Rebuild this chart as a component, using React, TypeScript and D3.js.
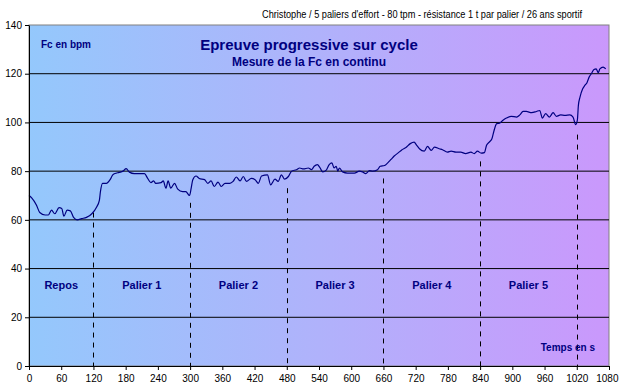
import React, { useEffect, useRef } from 'react';
import * as d3 from 'd3';

// heart rate samples (s, bpm)
const times = [0, 5, 14, 20, 30, 36, 42, 48, 56, 61, 65, 71, 77, 83, 90, 98, 107, 117, 126, 131, 133, 137, 144, 151, 156, 160, 168, 175, 181, 187, 196, 205, 215, 221, 227, 232, 236, 246, 250, 255, 259, 264, 271, 277, 286, 292, 299, 302, 305, 311, 317, 327, 333, 339, 345, 352, 358, 365, 374, 380, 386, 393, 399, 405, 414, 421, 427, 433, 444, 450, 458, 464, 470, 476, 483, 489, 498, 504, 511, 520, 526, 531, 537, 542, 547, 553, 559, 564, 568, 572, 575, 578, 584, 593, 606, 615, 621, 627, 634, 640, 649, 654, 662, 668, 674, 680, 688, 694, 702, 710, 717, 722, 727, 736, 742, 749, 755, 764, 770, 779, 786, 795, 804, 813, 823, 829, 835, 842, 848, 852, 857, 862, 866, 871, 876, 882, 889, 898, 908, 914, 920, 926, 936, 945, 951, 956, 962, 969, 976, 982, 990, 998, 1007, 1013, 1018, 1021, 1023, 1026, 1031, 1035, 1039, 1043, 1047, 1052, 1056, 1060, 1063, 1069, 1074];
const bpm = [70, 69, 66, 63, 62, 62, 64, 62.5, 65, 64.7, 61.5, 64, 63.7, 61, 60, 60.5, 61, 62.5, 65.3, 68, 71.6, 75, 75, 76.5, 78.5, 79, 79.5, 80, 81, 79.6, 79, 79, 79, 77, 75.3, 76, 75, 75.3, 76, 73, 76, 73, 75, 72.6, 71.6, 71.6, 70, 73, 76.5, 78, 77, 76.5, 75, 76, 73.7, 75.5, 73.7, 75, 75, 75.8, 77.6, 76, 77.8, 75.8, 77, 76.5, 75, 78, 78.5, 74.4, 76.7, 75.8, 78.5, 76.7, 77.8, 80, 80.6, 81.3, 80.9, 81.3, 80.6, 82, 82.7, 81.3, 79.7, 80.3, 82.7, 83.4, 81.3, 82, 80, 81.3, 79.7, 79.2, 79.2, 80, 79.7, 79, 80.2, 80, 80.6, 82, 82.3, 83.4, 84.8, 86.2, 87.6, 88.7, 89.7, 91.3, 91.9, 90.6, 89.2, 88.2, 90.2, 88.5, 89.9, 89.2, 88.8, 87.8, 88.2, 87.8, 87.8, 87.2, 87.8, 87.2, 88.2, 87.4, 87.6, 90.6, 91.9, 93.3, 96.7, 99.5, 99.7, 100.8, 101.8, 102.5, 102.2, 103.1, 104.5, 104.5, 104, 104.5, 104.9, 101.8, 103.6, 102.2, 104, 102.5, 103.1, 102.9, 103.1, 102.2, 99.1, 100.8, 107, 110.4, 113.8, 115.2, 116.3, 118.6, 120, 121.7, 122, 120.4, 122, 122.7, 122];

// phases
const phaseNames = ['Repos', 'Palier 1', 'Palier 2', 'Palier 3', 'Palier 4', 'Palier 5'];
const phaseBounds = [0, 120, 300, 480, 660, 840, 1020];
const dividerTimes = [120, 300, 480, 660, 840, 1020];
const dividerTops = [63, 67, 73, 77, 84, 95];

const xTicks = d3.range(0, 1081, 60);
const yTicks = [0, 20, 40, 60, 80, 100, 120, 140];

const W = 620;
const H = 390;
const FONT = '"Liberation Sans", Arial, sans-serif';
const NAVY = '#000080';

export default function App() {
  const ref = useRef(null);

  useEffect(() => {
    const root = d3.select(ref.current);
    root.selectAll('*').remove();

    const left = 29, right = 609, top = 25, bottom = 366;
    const x = d3.scaleLinear().domain([0, 1080]).range([left, right]);
    const y = d3.scaleLinear().domain([0, 140]).range([bottom, top]);

    const svg = root.append('svg')
      .attr('width', W)
      .attr('height', H)
      .style('position', 'absolute')
      .style('left', 0)
      .style('top', 0)
      .style('font-family', FONT);

    svg.append('rect').attr('width', W).attr('height', H).attr('fill', '#ffffff');

    const grad = svg.append('defs').append('linearGradient')
      .attr('id', 'bg').attr('x1', 0).attr('x2', 1).attr('y1', 0).attr('y2', 0);
    grad.append('stop').attr('offset', '0%').attr('stop-color', '#94c8fc');
    grad.append('stop').attr('offset', '50%').attr('stop-color', '#b0b2fb');
    grad.append('stop').attr('offset', '100%').attr('stop-color', '#ca98fc');

    // plot area
    svg.append('rect')
      .attr('x', left).attr('y', top)
      .attr('width', right - left).attr('height', bottom - top)
      .attr('fill', 'url(#bg)')
      .attr('stroke', '#808080')
      .attr('stroke-width', 1);

    // gridlines
    svg.append('g').selectAll('line')
      .data(yTicks.filter(d => d > 0 && d < 140))
      .join('line')
      .attr('x1', left).attr('x2', right)
      .attr('y1', d => y(d)).attr('y2', d => y(d))
      .attr('stroke', '#000').attr('stroke-width', 1);

    // phase dividers
    svg.append('g').selectAll('line')
      .data(dividerTimes)
      .join('line')
      .attr('x1', d => Math.round(x(d)) + 0.5).attr('x2', d => Math.round(x(d)) + 0.5)
      .attr('y1', (d, i) => y(dividerTops[i])).attr('y2', bottom)
      .attr('stroke', '#000').attr('stroke-width', 1)
      .attr('stroke-dasharray', '5,5');

    // phase labels
    svg.append('g').selectAll('text')
      .data(phaseNames)
      .join('text')
      .attr('x', (d, i) => x((phaseBounds[i] + phaseBounds[i + 1]) / 2))
      .attr('y', 289)
      .attr('text-anchor', 'middle')
      .attr('font-size', 11).attr('font-weight', 'bold')
      .attr('fill', NAVY)
      .text(d => d);

    // heart rate line
    const line = d3.line<number>()
      .x((d, i) => x(times[i]))
      .y(d => y(d))
      .curve(d3.curveMonotoneX);
    svg.append('path')
      .datum(bpm)
      .attr('d', line)
      .attr('fill', 'none')
      .attr('stroke', NAVY)
      .attr('stroke-width', 1.2);

    // axes
    const xAxis = svg.append('g')
      .attr('transform', `translate(0,${bottom})`)
      .call(d3.axisBottom(x).tickValues(xTicks).tickFormat(d3.format('d')).tickSize(4).tickSizeOuter(0));
    const yAxis = svg.append('g')
      .attr('transform', `translate(${left},0)`)
      .call(d3.axisLeft(y).tickValues(yTicks).tickFormat(d3.format('d')).tickSize(4).tickSizeOuter(0));
    [xAxis, yAxis].forEach(g => {
      g.select('.domain').attr('stroke', '#000');
      g.selectAll('.tick line').attr('stroke', '#000');
      g.selectAll('.tick text')
        .attr('font-family', FONT).attr('font-size', 10).attr('fill', '#000');
    });
    xAxis.selectAll('.tick text').attr('dy', '0.71em').attr('y', 9);
    // keep the last label inside the picture
    xAxis.selectAll('.tick text').filter(d => d === 1080)
      .attr('text-anchor', 'end').attr('x', 9);
    yAxis.selectAll('.tick text').attr('x', -7);

    // texts
    svg.append('text')
      .attr('x', 262).attr('y', 18)
      .attr('font-size', 10)
      .attr('textLength', 320).attr('lengthAdjust', 'spacingAndGlyphs')
      .attr('fill', '#000')
      .text("Christophe / 5 paliers d'effort - 80 tpm - résistance 1 t par palier / 26 ans sportif");
    svg.append('text')
      .attr('x', 309).attr('y', 50)
      .attr('text-anchor', 'middle')
      .attr('font-size', 15).attr('font-weight', 'bold')
      .attr('fill', NAVY)
      .text('Epreuve progressive sur cycle');
    svg.append('text')
      .attr('x', 309).attr('y', 66)
      .attr('text-anchor', 'middle')
      .attr('font-size', 12).attr('font-weight', 'bold')
      .attr('fill', NAVY)
      .text('Mesure de la Fc en continu');
    svg.append('text')
      .attr('x', 41).attr('y', 48)
      .attr('font-size', 10).attr('font-weight', 'bold')
      .attr('fill', NAVY)
      .text('Fc en bpm');
    svg.append('text')
      .attr('x', 595).attr('y', 351)
      .attr('text-anchor', 'end')
      .attr('font-size', 10).attr('font-weight', 'bold')
      .attr('fill', NAVY)
      .text('Temps en s');
  }, []);

  return <div ref={ref}></div>;
}
